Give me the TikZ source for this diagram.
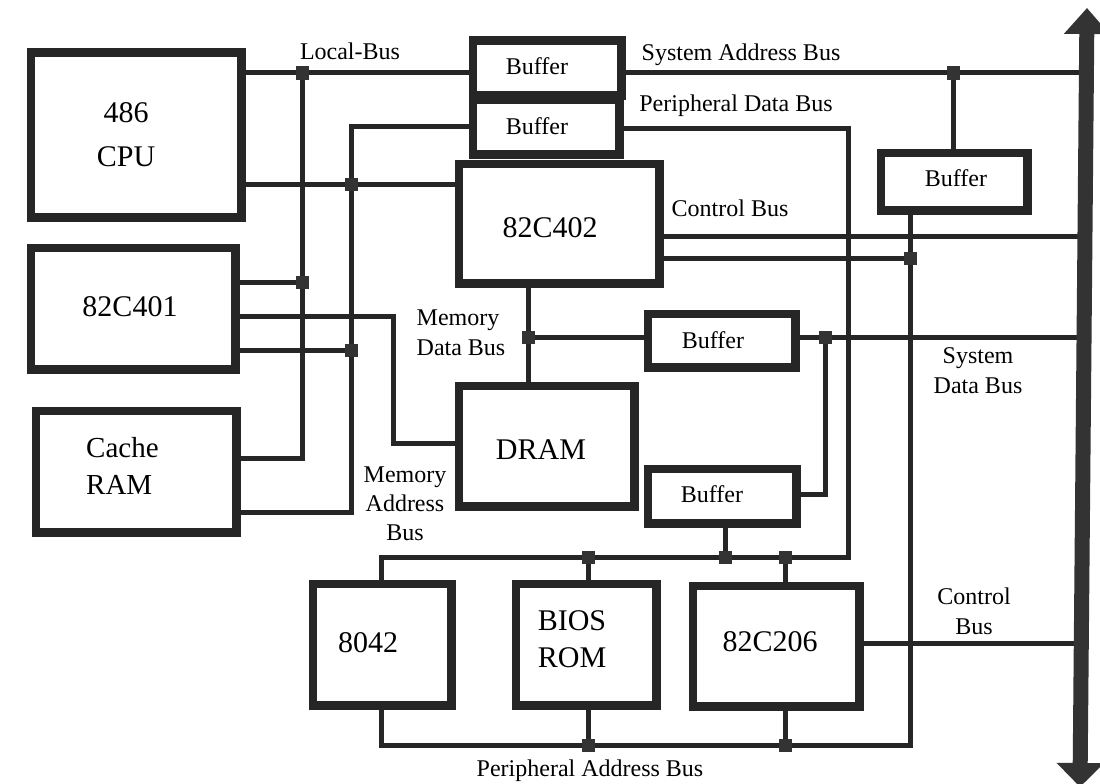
\documentclass[tikz,border=0pt]{standalone}
\usepackage{fontspec}
\setmainfont{Liberation Serif}
\usetikzlibrary{arrows.meta}
\begin{document}
\begin{tikzpicture}[x=1pt,y=-1pt,
  ln/.style={line width=5pt, draw=black!85},
  box/.style={draw=black!85, line width=5.5pt, inner sep=0pt, fill=white},
  jn/.style={fill=black!80, minimum size=13pt, inner sep=0pt},
  big/.style={font=\fontsize{30}{44}\selectfont, align=center, inner sep=0pt},
  buf/.style={font=\fontsize{24}{30}\selectfont, inner sep=0pt},
  lbl/.style={font=\fontsize{24}{30}\selectfont, inner sep=0pt, align=center}]
\useasboundingbox (0,0) rectangle (1100,784);
\fill[white] (0,0) rectangle (1100,784);

% coordinates
\coordinate (busx) at (1084,0);
\coordinate (cLB3) at (302,458);
\coordinate (c2top) at (351,126);
\coordinate (c2bot) at (351,512);
\coordinate (c3a) at (393,316);
\coordinate (c3b) at (393,443);
\coordinate (c4) at (825,494);
\coordinate (cA0) at (381,557);
\coordinate (cA9) at (848,557);
\coordinate (cPD) at (848,128);
\coordinate (cP0) at (381,745);
\coordinate (cP9) at (910,745);
\coordinate (cC1) at (0,236);
\coordinate (cC2) at (0,643);
\coordinate (busTop) at (1087,8);
\coordinate (busBot) at (1080,787);

% boxes
\path
  node[box, minimum width=208pt, minimum height=162pt] (cpu) at (136,135) {}
  node[box, minimum width=202pt, minimum height=119pt] (c401) at (133,308.5) {}
  node[box, minimum width=198pt, minimum height=119pt] (cache) at (136,471.5) {}
  node[box, minimum width=146pt, minimum height=52pt] (buf1) at (547,68) {}
  node[box, minimum width=144pt, minimum height=52pt] (buf2) at (546,127) {}
  node[box, minimum width=198pt, minimum height=117pt] (c402) at (559,223.5) {}
  node[box, minimum width=144pt, minimum height=55pt] (bufR) at (954,181.5) {}
  node[box, minimum width=145pt, minimum height=51pt] (bufM) at (721.5,340.5) {}
  node[box, minimum width=173pt, minimum height=118pt] (dram) at (546.5,446) {}
  node[box, minimum width=146pt, minimum height=52pt] (bufL) at (722,496) {}
  node[box, minimum width=136pt, minimum height=119pt] (k8042) at (382,644.5) {}
  node[box, minimum width=138pt, minimum height=119pt] (bios) at (586,644.5) {}
  node[box, minimum width=164pt, minimum height=118pt] (c206) at (776,646) {};

% junction positions
\path
  coordinate (jLB1) at (302,73)
  coordinate (jLB2) at (302,282)
  coordinate (j2a) at (351,184)
  coordinate (j2b) at (351,350)
  coordinate (jM1) at (528,337)
  coordinate (jM2) at (825,337)
  coordinate (jM3) at (725,557)
  coordinate (jA1) at (588,557)
  coordinate (jA2) at (785,557)
  coordinate (jP1) at (588,745)
  coordinate (jP2) at (785,745)
  coordinate (jC) at (910,258)
  coordinate (jS) at (953,73);

% connectors
\begin{scope}[ln]
% local bus
\draw (cpu.east |- jLB1) -- (buf1.west |- jLB1);
\draw (jLB1) -- (cLB3) -- (cache.east |- cLB3);
\draw (c401.east |- jLB2) -- (jLB2);
% second vertical
\draw (buf2.west |- c2top) -- (c2top) -- (c2bot) -- (cache.east |- c2bot);
\draw (cpu.east |- j2a) -- (c402.west |- j2a);
\draw (c401.east |- j2b) -- (j2b);
\draw (c401.east |- c3a) -- (c3a) -- (c3b) -- (dram.west |- c3b);
% memory data bus
\draw (c402.south -| jM1) -- (dram.north -| jM1);
\draw (jM1) -- (bufM.west |- jM1);
\draw (bufM.east |- jM2) -- (busx |- jM2);
\draw (jM2) -- (c4) -- (bufL.east |- c4);
\draw (bufL.south -| jM3) -- (jM3);
% memory address / peripheral data bus
\draw (k8042.north -| cA0) -- (cA0) -- (cA9) -- (cPD) -- (buf2.east |- cPD);
\draw (jA1) -- (bios.north -| jA1);
\draw (jA2) -- (c206.north -| jA2);
% peripheral address bus
\draw (k8042.south -| cP0) -- (cP0) -- (cP9) -- (bufR.south -| cP9);
\draw (bios.south -| jP1) -- (jP1);
\draw (c206.south -| jP2) -- (jP2);
% control bus
\draw (c402.east |- cC1) -- (busx |- cC1);
\draw (c402.east |- jC) -- (jC);
\draw (c206.east |- cC2) -- (busx |- cC2);
% system address bus
\draw (buf1.east |- jS) -- (busx |- jS);
\draw (jS) -- (bufR.north -| jS);
\end{scope}

% boxes redrawn on top
\foreach \n in {cpu,c401,cache,buf1,buf2,c402,bufR,bufM,dram,bufL,k8042,bios,c206}
  \draw[draw=black!85, line width=5.5pt] (\n.north west) rectangle (\n.south east);

% junction squares
\foreach \j in {jLB1,jLB2,j2a,j2b,jM1,jM2,jM3,jA1,jA2,jP1,jP2,jC,jS}
  \node[jn] at (\j) {};

% system bus arrow
\draw[line width=15pt, draw=black!80,
  {Triangle[width=44pt,length=26pt]}-{Triangle[width=46pt,length=24pt]}]
  (busTop) -- (busBot);

% box texts
\node[big] (t-cpu) at (126,135) {486\\CPU};
\node[big, font=\fontsize{29}{37}\selectfont, align=left, anchor=west] (t-cache) at (86,466) {Cache\\RAM};
\node[big] (t-401) at (130,307) {82C401};
\node[big] (t-402) at (550,228) {82C402};
\node[big] (t-dram) at (541,450) {DRAM};
\node[big] (t-8042) at (368,643) {8042};
\node[big, font=\fontsize{30}{37}\selectfont] (t-bios) at (572,639) {BIOS\\ROM};
\node[big] (t-206) at (770,642) {82C206};
\node[buf] (t-b1) at (537,66) {Buffer};
\node[buf] (t-b2) at (537,126) {Buffer};
\node[buf] (t-bR) at (956,178) {Buffer};
\node[buf] (t-bM) at (713,340) {Buffer};
\node[buf] (t-bL) at (712,494) {Buffer};

% bus labels
\node[lbl] (l-local) at (350,51) {Local-Bus};
\node[lbl] (l-sab) at (741,55) {System Address Bus};
\node[lbl] (l-pdb) at (736,106) {Peripheral Data Bus};
\node[lbl] (l-cb1) at (730,208) {Control Bus};
\node[lbl, align=left] (l-mdb) at (461,333) {Memory\\Data Bus};
\node[lbl] (l-sdb) at (978,371) {System\\Data Bus};
\node[lbl, font=\fontsize{24}{29}\selectfont] (l-mab) at (405,504) {Memory\\Address\\Bus};
\node[lbl] (l-cb2) at (974,611) {Control\\Bus};
\node[lbl] (l-pab) at (590,771) {Peripheral Address Bus};
\end{tikzpicture}
\end{document}
